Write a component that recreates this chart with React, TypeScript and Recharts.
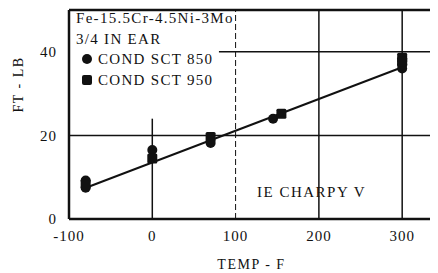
import React from 'react';
import {
    ComposedChart,
    Scatter,
    Line,
    XAxis,
    YAxis,
    ReferenceLine,
} from 'recharts';

// temperature (F) vs energy (ft-lb)
const cond850 = [
    { x: -80, y: 7.5 },
    { x: -80, y: 9.2 },
    { x: 0, y: 16.5 },
    { x: 70, y: 18.2 },
    { x: 145, y: 24 },
    { x: 300, y: 36 },
    { x: 300, y: 37 },
];

const cond950 = [
    { x: -80, y: 8.4 },
    { x: 0, y: 14.5 },
    { x: 70, y: 19.6 },
    { x: 155, y: 25.2 },
    { x: 300, y: 38.6 },
    { x: 300, y: 37.6 },
];

const fitLine = [
    { x: -82, y: 7.3 },
    { x: 300, y: 36.3 },
];

const xTicks = [-100, 0, 100, 200, 300];
const yTicks = [0, 20, 40];

const legendLines = ['Fe-15.5Cr-4.5Ni-3Mo', '3/4 IN EAR'];
const seriesNames = ['COND SCT 850', 'COND SCT 950'];
const noteText = 'IE CHARPY V';

const FONT = '"Liberation Serif", "DejaVu Serif", serif';
const INK = '#111';
const tickStyle = { fontSize: 15, fill: INK, fontFamily: FONT, letterSpacing: 1 };

const Dot = (props: any) => {
    const { cx, cy } = props;
    return <circle cx={cx} cy={cy} r={5} fill={INK} />;
};

const Sq = (props: any) => {
    const { cx, cy } = props;
    return <rect x={cx - 5} y={cy - 5} width={10} height={10} rx={1.5} fill={INK} />;
};

export default function App() {
    return (
        <div style={{ position: 'relative', width: 430, height: 265, fontFamily: FONT, color: INK }}>
            <ComposedChart
                width={430}
                height={265}
                margin={{ top: 2, right: 0, bottom: 0, left: 0 }}
            >
                <XAxis
                    type="number"
                    dataKey="x"
                    domain={[-100, 343]}
                    ticks={xTicks}
                    allowDataOverflow
                    height={54}
                    axisLine={{ stroke: INK, strokeWidth: 2.5 }}
                    tickLine={false}
                    tick={tickStyle}
                    tickMargin={5}
                    label={{ value: 'TEMP - F', position: 'insideBottom', offset: 4, dx: -2, fill: INK, fontSize: 14, fontFamily: FONT, letterSpacing: 1.5 }}
                />
                <YAxis
                    type="number"
                    dataKey="y"
                    domain={[0, 50]}
                    ticks={yTicks}
                    width={61}
                    axisLine={{ stroke: INK, strokeWidth: 2.5 }}
                    tickLine={false}
                    tick={tickStyle}
                    tickMargin={6}
                    label={{ value: 'FT - LB', angle: -90, position: 'insideLeft', offset: 10, dy: -2, fill: INK, fontSize: 14, fontFamily: FONT, letterSpacing: 1.5 }}
                />
                <ReferenceLine y={50} stroke={INK} strokeWidth={2.5} />
                <ReferenceLine y={20} stroke={INK} strokeWidth={1.5} />
                <ReferenceLine segment={[{ x: 80, y: 40 }, { x: 343, y: 40 }]} stroke={INK} strokeWidth={1.5} />
                <ReferenceLine segment={[{ x: 0, y: 0 }, { x: 0, y: 24 }]} stroke={INK} strokeWidth={1.5} />
                <ReferenceLine x={100} stroke={INK} strokeWidth={1} strokeDasharray="6 3" />
                <ReferenceLine x={200} stroke={INK} strokeWidth={1.5} />
                <ReferenceLine x={300} stroke={INK} strokeWidth={1.5} />
                <Line
                    data={fitLine}
                    dataKey="y"
                    type="linear"
                    stroke={INK}
                    strokeWidth={2}
                    dot={false}
                    isAnimationActive={false}
                />
                <Scatter data={cond850} shape={<Dot />} isAnimationActive={false} />
                <Scatter data={cond950} shape={<Sq />} isAnimationActive={false} />
            </ComposedChart>

            <div style={{ position: 'absolute', left: 68, top: 0, fontSize: 15, lineHeight: '20.5px', letterSpacing: 1.3 }}>
                {legendLines.map((t) => (
                    <div key={t}>{t}</div>
                ))}
                {seriesNames.map((t, i) => (
                    <div key={t} style={{ display: 'flex', alignItems: 'center' }}>
                        <span
                            style={{
                                display: 'inline-block',
                                width: 10,
                                height: 10,
                                background: INK,
                                borderRadius: i === 0 ? '50%' : 2,
                                marginLeft: 6,
                                marginRight: 6,
                            }}
                        />
                        {t}
                    </div>
                ))}
            </div>
            <div style={{ position: 'absolute', left: 249, top: 176, fontSize: 15, letterSpacing: 1.5 }}>{noteText}</div>
        </div>
    );
}
